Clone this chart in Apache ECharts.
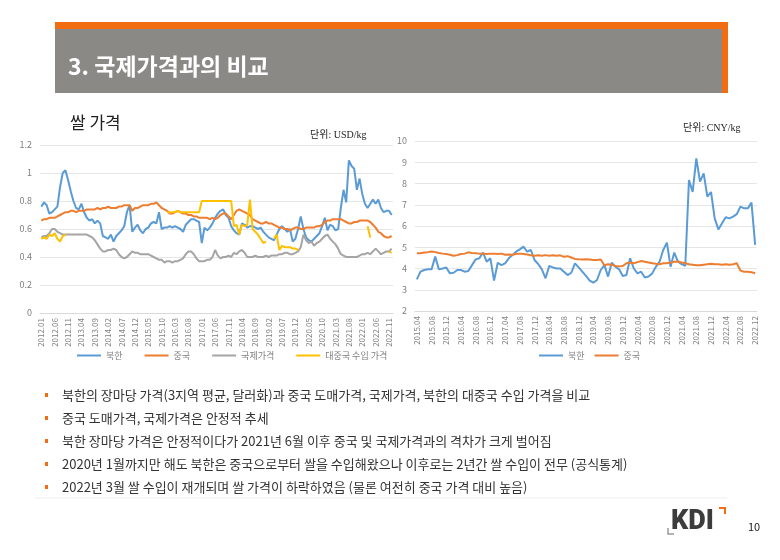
<!DOCTYPE html>
<html><head><meta charset="utf-8">
<script src="https://cdn.jsdelivr.net/npm/echarts@6/dist/echarts.min.js"></script>
<style>html,body{margin:0;padding:0;background:#fff}#c{width:780px;height:560px}</style>
</head><body><div id="c"></div>
<script>
// ---- categories / tick labels ----
function months(y0, m0, y1, m1) {
  const out = [];
  let y = y0, m = m0;
  while (y < y1 || (y === y1 && m <= m1)) {
    out.push(y + '.' + (m < 10 ? '0' + m : m));
    m++; if (m > 12) { m = 1; y++; }
  }
  return out;
}
const leftCats = months(2012, 1, 2022, 12);   // 132 months
const rightCats = months(2015, 4, 2022, 12);  // 93 months
const leftTicks = [0, 0.2, 0.4, 0.6, 0.8, 1, 1.2];
const rightTicks = [2, 3, 4, 5, 6, 7, 8, 9, 10];

// ---- left chart series (USD/kg) ----
const nkUSD = [0.76,0.79,0.77,0.71,0.72,0.74,0.76,0.90,1.00,1.02,0.95,0.87,0.80,0.75,0.74,0.78,0.72,0.68,0.66,0.67,
0.64,0.66,0.64,0.55,0.54,0.53,0.56,0.51,0.55,0.57,0.59,0.62,0.72,0.77,0.58,0.61,0.63,0.59,0.57,0.60,
0.61,0.64,0.65,0.64,0.72,0.60,0.61,0.61,0.62,0.61,0.62,0.61,0.60,0.58,0.63,0.65,0.67,0.67,0.66,0.65,
0.50,0.61,0.59,0.61,0.64,0.68,0.71,0.73,0.74,0.70,0.68,0.62,0.59,0.57,0.56,0.64,0.63,0.61,0.62,0.62,
0.61,0.60,0.61,0.58,0.56,0.54,0.53,0.52,0.56,0.60,0.62,0.60,0.58,0.60,0.51,0.53,0.60,0.69,0.60,0.54,
0.52,0.51,0.53,0.55,0.57,0.62,0.68,0.59,0.63,0.62,0.59,0.60,0.75,0.88,0.79,1.09,1.05,1.03,0.88,0.96,
0.85,0.78,0.75,0.78,0.81,0.78,0.81,0.75,0.72,0.73,0.73,0.70];
const cnUSD = [0.66,0.67,0.67,0.68,0.68,0.68,0.69,0.70,0.71,0.72,0.72,0.73,0.73,0.72,0.73,0.73,0.73,0.74,0.74,0.74,
0.74,0.75,0.74,0.75,0.75,0.76,0.75,0.75,0.75,0.76,0.76,0.77,0.77,0.77,0.73,0.75,0.75,0.76,0.77,0.77,
0.77,0.78,0.78,0.79,0.77,0.75,0.74,0.73,0.71,0.71,0.72,0.73,0.72,0.71,0.71,0.70,0.70,0.69,0.69,0.68,
0.68,0.68,0.68,0.67,0.68,0.67,0.68,0.70,0.71,0.71,0.69,0.67,0.70,0.73,0.74,0.73,0.72,0.71,0.70,0.67,
0.66,0.65,0.64,0.64,0.65,0.64,0.64,0.63,0.62,0.61,0.61,0.60,0.60,0.59,0.60,0.61,0.61,0.60,0.60,0.61,
0.61,0.61,0.61,0.62,0.62,0.63,0.65,0.66,0.66,0.67,0.67,0.67,0.67,0.66,0.65,0.64,0.64,0.65,0.65,0.66,
0.66,0.66,0.66,0.65,0.63,0.61,0.58,0.57,0.55,0.54,0.54,0.55];
const intlUSD = [0.54,0.55,0.55,0.57,0.60,0.60,0.58,0.57,0.56,0.56,0.56,0.56,0.56,0.56,0.56,0.56,0.56,0.56,0.55,0.54,
0.52,0.49,0.46,0.44,0.44,0.45,0.45,0.46,0.45,0.42,0.40,0.39,0.40,0.42,0.44,0.43,0.43,0.42,0.42,0.42,
0.42,0.41,0.40,0.39,0.38,0.38,0.36,0.37,0.37,0.36,0.37,0.37,0.38,0.39,0.42,0.44,0.44,0.42,0.39,0.37,
0.37,0.37,0.38,0.38,0.40,0.45,0.41,0.39,0.40,0.40,0.41,0.40,0.43,0.42,0.44,0.45,0.43,0.40,0.40,0.40,
0.41,0.40,0.40,0.40,0.41,0.40,0.41,0.41,0.41,0.42,0.42,0.43,0.43,0.42,0.42,0.43,0.44,0.47,0.56,0.52,
0.50,0.51,0.48,0.50,0.51,0.53,0.55,0.56,0.53,0.51,0.49,0.46,0.42,0.41,0.40,0.40,0.40,0.40,0.40,0.41,
0.42,0.42,0.43,0.42,0.44,0.46,0.44,0.42,0.43,0.44,0.44,0.46];
const importUSD = [0.53,0.54,0.53,0.56,0.55,0.57,0.53,0.51,0.55,0.56,null,null,null,null,null,null,null,null,null,null,
null,null,null,null,null,null,null,null,null,null,null,null,null,null,null,null,null,null,null,null,
null,null,null,null,null,null,null,0.72,0.72,0.72,0.72,0.73,0.72,0.72,0.72,0.72,0.72,0.72,0.72,0.72,
0.80,0.80,0.80,0.80,0.80,0.80,0.80,0.80,0.80,0.80,0.80,0.80,0.62,0.63,0.56,0.63,0.62,0.63,0.81,0.60,
0.58,0.56,0.53,0.50,0.51,null,null,0.53,0.56,0.45,0.48,0.47,0.47,0.47,0.46,0.46,0.45,null,null,null,
null,null,null,null,null,null,null,null,null,null,null,null,null,null,null,null,null,null,null,null,
null,null,0.62,0.54,null,null,null,null,null,null,0.44,0.43];

// ---- right chart series (CNY/kg) ----
const nkCNY = [3.49,3.85,3.93,3.96,3.96,4.56,3.96,4.00,4.05,3.77,3.80,3.93,3.93,3.85,3.88,4.16,4.43,4.48,4.75,4.32,
4.48,3.43,4.27,4.16,4.24,4.48,4.63,4.79,4.90,5.03,4.79,4.87,4.40,4.21,3.96,3.54,4.12,4.05,4.00,4.00,
3.85,3.69,3.80,4.24,4.05,3.85,3.65,3.43,3.33,3.46,3.93,4.16,3.62,4.27,4.08,3.96,3.65,3.69,4.48,4.00,
3.77,3.85,3.58,3.62,3.77,4.08,4.32,4.87,5.22,4.08,4.75,4.32,4.21,4.12,8.16,7.60,9.18,8.09,8.48,7.38,
7.60,6.36,5.84,6.13,6.41,6.36,6.44,6.56,6.91,6.83,6.83,7.10,5.11];
const cnCNY = [4.72,4.72,4.75,4.77,4.80,4.77,4.73,4.70,4.68,4.65,4.60,4.63,4.68,4.70,4.76,4.73,4.72,4.70,4.70,4.68,
4.70,4.70,4.68,4.70,4.65,4.66,4.65,4.68,4.70,4.68,4.66,4.62,4.60,4.62,4.60,4.63,4.60,4.62,4.60,4.62,
4.55,4.58,4.52,4.45,4.43,4.42,4.43,4.42,4.40,4.40,4.42,4.15,4.20,4.18,4.12,4.10,4.12,4.25,4.28,4.25,
4.30,4.35,4.32,4.28,4.25,4.22,4.20,4.25,4.25,4.28,4.32,4.33,4.28,4.25,4.20,4.18,4.15,4.15,4.18,4.20,
4.22,4.20,4.20,4.18,4.20,4.18,4.20,4.25,3.90,3.85,3.85,3.82,3.78];

const leftNames = ['북한', '중국', '국제가격', '대중국 수입 가격'];
const rightNames = ['북한', '중국'];
const bullets = [
  '북한의 장마당 가격(3지역 평균, 달러화)과 중국 도매가격, 국제가격, 북한의 대중국 수입 가격을 비교',
  '중국 도매가격, 국제가격은 안정적 추세',
  '북한 장마당 가격은 안정적이다가 2021년 6월 이후 중국 및 국제가격과의 격차가 크게 벌어짐',
  '2020년 1월까지만 해도 북한은 중국으로부터 쌀을 수입해왔으나 이후로는 2년간 쌀 수입이 전무 (공식통계)',
  '2022년 3월 쌀 수입이 재개되며 쌀 가격이 하락하였음 (물론 여전히 중국 가격 대비 높음)'
];

const FONT = '"Noto Sans CJK KR", "Noto Sans", sans-serif';
const C = { blue: '#5b9bd5', orange: '#ed7d31', gray: '#a5a5a5', yellow: '#ffc000' };
const axisTxt = '#7f7f7f';

const chart = echarts.init(document.getElementById('c'), null, { renderer: 'canvas' });

function lineSeries(name, data, color, xi) {
  return {
    name, type: 'line', data, xAxisIndex: xi, yAxisIndex: xi,
    symbol: 'none', connectNulls: false, animation: false,
    lineStyle: { color, width: 2 }, itemStyle: { color }
  };
}

const graphics = [
  { type: 'rect', shape: { x: 55, y: 22, width: 673, height: 71 }, style: { fill: '#f26c12' } },
  { type: 'rect', shape: { x: 55, y: 29, width: 667, height: 64 }, style: { fill: '#8b8985' } },
  { type: 'text', style: { x: 68, y: 66, text: '3. 국제가격과의 비교', fill: '#ffffff',
      font: 'bold 23px ' + FONT, textVerticalAlign: 'middle' } },
  { type: 'text', style: { x: 70, y: 123, text: '쌀 가격', fill: '#222',
      font: '17px ' + FONT, textVerticalAlign: 'middle' } },
  { type: 'text', style: { x: 310, y: 135, text: '단위: USD/kg', fill: '#222',
      font: '10px "Liberation Serif", "Noto Sans CJK KR", serif', textVerticalAlign: 'middle' } },
  { type: 'text', style: { x: 683, y: 128, text: '단위: CNY/kg', fill: '#222',
      font: '10px "Liberation Serif", "Noto Sans CJK KR", serif', textVerticalAlign: 'middle' } },
  { type: 'line', shape: { x1: 35, y1: 498, x2: 727, y2: 498 }, style: { stroke: '#eeeeee', lineWidth: 1 } },
  // KDI logo
  { type: 'text', style: { x: 671, y: 522, text: 'KDI', fill: '#3c3c3c',
      font: '900 27px "Roboto", "Liberation Sans", sans-serif', textVerticalAlign: 'middle' } },
  { type: 'polyline', shape: { points: [[719, 508], [725, 508], [725, 514]] }, style: { stroke: '#f26c12', lineWidth: 2, fill: null } },
  { type: 'polyline', shape: { points: [[668, 528], [668, 534], [674, 534]] }, style: { stroke: '#9a9a9a', lineWidth: 1.5, fill: null } },
  { type: 'text', style: { x: 748, y: 527, text: '10', fill: '#222',
      font: '11px ' + FONT, textVerticalAlign: 'middle' } }
];
bullets.forEach((t, i) => {
  const y = 395 + i * 23;
  graphics.push({ type: 'rect', shape: { x: 45, y: y - 2, width: 3, height: 4 }, style: { fill: '#f26c12' } });
  graphics.push({ type: 'text', style: { x: 62, y: y, text: t, fill: '#333',
      font: '13px ' + FONT, textVerticalAlign: 'middle' } });
});

const option = {
  animation: false,
  textStyle: { fontFamily: FONT },
  grid: [
    { left: 40, top: 145, width: 353, height: 168 },
    { left: 415, top: 141, width: 342, height: 170 }
  ],
  xAxis: [
    { type: 'category', gridIndex: 0, data: leftCats, boundaryGap: true,
      axisLine: { lineStyle: { color: '#d9d9d9' } }, axisTick: { show: false },
      axisLabel: { interval: 4, rotate: 90, fontSize: 8, color: axisTxt, margin: 5 } },
    { type: 'category', gridIndex: 1, data: rightCats, boundaryGap: true,
      axisLine: { lineStyle: { color: '#d9d9d9' } }, axisTick: { show: false },
      axisLabel: { interval: 3, rotate: 90, fontSize: 8, color: axisTxt, margin: 5 } }
  ],
  yAxis: [
    { type: 'value', gridIndex: 0, min: leftTicks[0], max: leftTicks[leftTicks.length - 1], interval: 0.2,
      axisLine: { show: false }, axisTick: { show: false },
      axisLabel: { fontSize: 9, color: axisTxt, margin: 8 },
      splitLine: { lineStyle: { color: '#e6e6e6' } } },
    { type: 'value', gridIndex: 1, min: rightTicks[0], max: rightTicks[rightTicks.length - 1], interval: 1,
      axisLine: { show: false }, axisTick: { show: false },
      axisLabel: { fontSize: 9, color: axisTxt, margin: 8 },
      splitLine: { lineStyle: { color: '#e6e6e6' } } }
  ],
  legend: [
    { data: leftNames, left: 72, top: 346, icon: 'rect', itemWidth: 24, itemHeight: 2, itemGap: 22,
      textStyle: { fontSize: 9, color: axisTxt } },
    { data: rightNames, left: 534, top: 346, icon: 'rect', itemWidth: 24, itemHeight: 2, itemGap: 10,
      textStyle: { fontSize: 9, color: axisTxt } }
  ],
  series: [
    lineSeries(leftNames[0], nkUSD, C.blue, 0),
    lineSeries(leftNames[1], cnUSD, C.orange, 0),
    lineSeries(leftNames[2], intlUSD, C.gray, 0),
    lineSeries(leftNames[3], importUSD, C.yellow, 0),
    lineSeries(rightNames[0], nkCNY, C.blue, 1),
    lineSeries(rightNames[1], cnCNY, C.orange, 1)
  ],
  graphic: graphics
};
chart.setOption(option);
</script>
</body></html>
